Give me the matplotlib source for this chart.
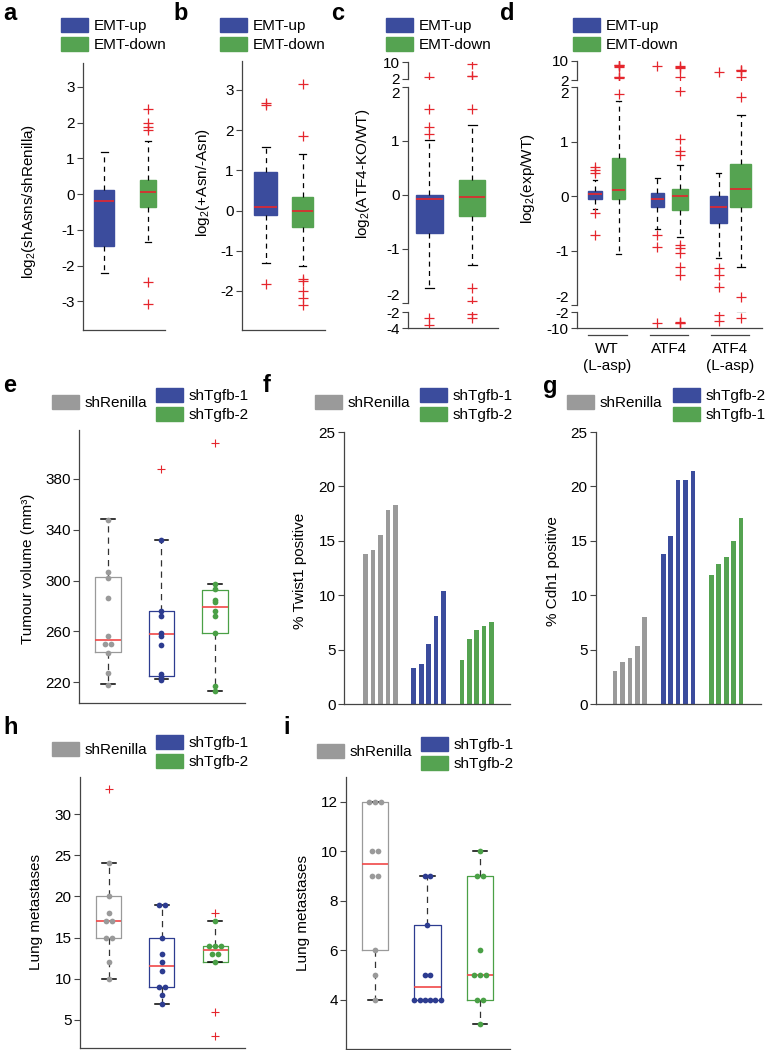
import numpy as np
import matplotlib
matplotlib.use('Agg')
import matplotlib.pyplot as plt
import matplotlib.transforms as mtransforms
from matplotlib.patches import Patch

plt.rcParams['font.family'] = ['Liberation Sans', 'DejaVu Sans']
plt.rcParams['font.size'] = 11
plt.rcParams['axes.unicode_minus'] = False

W, H = 768, 1050

BLUE = '#3b4c9d'
GREEN = '#55a351'
GRAY = '#9a9a9a'
RED = '#e5262d'

# ---- top row: box stats ----
a_up = dict(med=-0.18, q1=-1.45, q3=0.12, whislo=-2.2, whishi=1.17, fliers=[])
a_down = dict(med=0.06, q1=-0.35, q3=0.40, whislo=-1.33, whishi=1.5,
              fliers=[2.38, 2.0, 1.87, 1.8, -2.47, -3.07])

b_up = dict(med=0.1, q1=-0.12, q3=0.95, whislo=-1.3, whishi=1.57,
            fliers=[2.67, 2.62, -1.83])
b_down = dict(med=-0.02, q1=-0.42, q3=0.35, whislo=-1.37, whishi=1.4,
              fliers=[3.15, 1.85, -1.7, -1.76, -2.0, -2.17, -2.36])

c_up = dict(med=-0.07, q1=-0.71, q3=0.0, whislo=-1.73, whishi=1.02,
            fliers=[3.1, 1.59, 1.26, 1.13, -2.75, -3.6])
c_down = dict(med=-0.04, q1=-0.39, q3=0.28, whislo=-1.3, whishi=1.3,
              fliers=[9.0, 3.5, 3.3, 1.59, -1.72, -1.97, -2.3, -2.75])

d_labels = ['WT\n(L-asp)', 'ATF4', 'ATF4\n(L-asp)']
d_stats = [
    dict(med=0.03, q1=-0.05, q3=0.1, whislo=-0.23, whishi=0.3,
         fliers=[0.53, 0.48, 0.43, -0.32, -0.72]),
    dict(med=0.11, q1=-0.05, q3=0.69, whislo=-1.07, whishi=1.75,
         fliers=[1.87, 2.9, 3.1, 3.3, 7.6, 7.9, 8.2, 8.4]),
    dict(med=-0.05, q1=-0.21, q3=0.06, whislo=-0.61, whishi=0.33,
         fliers=[7.9, -0.72, -0.93, -7.3]),
    dict(med=0.0, q1=-0.26, q3=0.12, whislo=-0.75, whishi=0.56,
         fliers=[8.0, 7.5, 6.9, 3.1, 1.92, 1.04, 0.82, 0.75, -0.9, -0.95,
                 -1.05, -1.3, -1.45, -7.0, -7.3, -7.6]),
    dict(med=-0.2, q1=-0.49, q3=0.0, whislo=-1.13, whishi=0.42,
         fliers=[5.5, -1.33, -1.45, -1.67, -3.6, -6.3]),
    dict(med=0.13, q1=-0.2, q3=0.59, whislo=-1.3, whishi=1.49,
         fliers=[6.0, 6.2, 6.4, 3.1, 1.81, -1.85, -5.2]),
]

# ---- e, h, i: individual values ----
e_gray = [348, 307, 302, 286, 256, 250, 250, 243, 227, 218]
e_blue = [332, 276, 272, 259, 256, 249, 226, 224, 222]
e_green = [297, 293, 285, 283, 276, 272, 259, 217, 213]
e_stats = [
    dict(med=252.8, q1=243.4, q3=302.8, whislo=218.4, whishi=348.5, fliers=[]),
    dict(med=257.8, q1=224.5, q3=275.7, whislo=222.4, whishi=332, fliers=[388]),
    dict(med=278.9, q1=259, q3=292.5, whislo=213.2, whishi=297.2, fliers=[408]),
]

h_gray = [24, 20, 18, 17, 17, 15, 15, 12, 10]
h_blue = [19, 19, 15, 13, 12, 11, 9, 9, 8, 7]
h_green = [17, 14, 14, 14, 13, 13, 12]
h_stats = [
    dict(med=17, q1=15, q3=20, whislo=10, whishi=24, fliers=[33]),
    dict(med=11.5, q1=9, q3=15, whislo=7, whishi=19, fliers=[]),
    dict(med=13.5, q1=12, q3=14, whislo=12, whishi=17, fliers=[18, 6, 3]),
]

i_gray = [12, 12, 12, 10, 10, 9, 9, 6, 5, 4]
i_blue = [9, 9, 7, 5, 5, 4, 4, 4, 4, 4, 4]
i_green = [10, 9, 9, 6, 5, 5, 5, 4, 4, 3]
i_stats = [
    dict(med=9.5, q1=6, q3=12, whislo=4, whishi=12, fliers=[]),
    dict(med=4.5, q1=4, q3=7, whislo=4, whishi=9, fliers=[]),
    dict(med=5, q1=4, q3=9, whislo=3, whishi=10, fliers=[]),
]

# ---- f, g bars ----
f_gray = [13.8, 14.2, 15.5, 17.8, 18.3]
f_blue = [3.3, 3.7, 5.5, 8.1, 10.4]
f_green = [4.0, 6.0, 6.8, 7.2, 7.5]
g_gray = [3.0, 3.9, 4.2, 5.3, 8.0]
g_blue = [13.8, 15.4, 20.6, 20.6, 21.4]
g_green = [11.9, 12.9, 13.5, 15.0, 17.1]

fig = plt.figure(figsize=(W / 100, H / 100), dpi=100)


def px_axes(x0, y0, x1, y1):
    return fig.add_axes([x0 / W, 1 - y1 / H, (x1 - x0) / W, (y1 - y0) / H])


def style(ax, left=True, bottom=True):
    for s in ['top', 'right']:
        ax.spines[s].set_visible(False)
    ax.spines['left'].set_visible(left)
    ax.spines['bottom'].set_visible(bottom)
    for s in ['left', 'bottom']:
        ax.spines[s].set_color('#444444')
        ax.spines[s].set_linewidth(0.9)
    ax.tick_params(axis='y', direction='out', length=4, width=0.8, pad=2,
                   labelsize=11, color='#444444')
    ax.tick_params(axis='x', length=0, labelbottom=False)
    ax.set_facecolor('none')


def ylabel(ax, text, right_px, frac=0.5):
    # right_px: distance (px) from the left spine to the label's right edge
    ax.set_ylabel(text, fontsize=11)
    w = ax.get_position().width * W
    ax.yaxis.set_label_coords(-right_px / w, frac)


def top_box(ax, stats, pos, widths):
    bp = ax.bxp(stats, positions=pos, widths=widths,
                capwidths=[w * 0.35 for w in widths], patch_artist=True,
                manage_ticks=False,
                whiskerprops=dict(color='black', lw=0.9, linestyle=(0, (4, 3.5))),
                capprops=dict(color='black', lw=0.9),
                medianprops=dict(color=RED, lw=1.2),
                flierprops=dict(marker='+', markeredgecolor=RED, markersize=6.5,
                                mew=0.9, linestyle='none'))
    for k, box in enumerate(bp['boxes']):
        c = BLUE if k % 2 == 0 else GREEN
        box.set_facecolor(c)
        box.set_edgecolor(c)


def spread(vals, step=0.11):
    vals = np.asarray(vals, dtype=float)
    off = np.zeros(len(vals))
    for v in np.unique(vals):
        idx = np.where(vals == v)[0]
        n = len(idx)
        st = min(step, 0.5 / max(n - 1, 1))
        off[idx] = (np.arange(n) - (n - 1) / 2) * st
    return off


def dot_box(ax, stats, groups, colors, widths=0.47):
    pos = [1, 2, 3]
    bp = ax.bxp(stats, positions=pos, widths=widths, capwidths=widths * 0.55,
                manage_ticks=False,
                whiskerprops=dict(color='#333333', lw=0.9, linestyle=(0, (5, 4))),
                capprops=dict(color='black', lw=1.1),
                medianprops=dict(color='#f04848', lw=1.2),
                flierprops=dict(marker='+', markeredgecolor=RED, markersize=6,
                                mew=0.8, linestyle='none'))
    for box, c in zip(bp['boxes'], colors):
        box.set_color(c)
        box.set_linewidth(0.9)
    for p, vals, c in zip(pos, groups, colors):
        ax.scatter(p + spread(vals), vals, s=17, color=c, linewidths=0, zorder=3)


def legend(loc_px, labels, colors, fontsize=11):
    handles = [Patch(facecolor=c, edgecolor=c) for c in colors]
    fig.legend(handles, labels, loc='upper left',
               bbox_to_anchor=(loc_px[0] / W, 1 - loc_px[1] / H),
               frameon=False, fontsize=fontsize, borderpad=0, borderaxespad=0,
               handlelength=1.75, handleheight=1.0, handletextpad=0.4,
               labelspacing=0.28)


def panel_label(x, y, s):
    fig.text(x / W, 1 - y / H, s, fontsize=17, fontweight='bold', va='center',
             ha='left')


emt = ['EMT-up', 'EMT-down']

# ---- a ----
ax = px_axes(83, 63, 165, 330)
top_box(ax, [a_up, a_down], [1, 2], [0.45, 0.38])
ax.set_xlim(0.52, 2.39)
ax.set_ylim(-3.8, 3.67)
ax.set_yticks([-3, -2, -1, 0, 1, 2, 3])
style(ax)
ylabel(ax, r'log$_\mathregular{2}$(shAsns/shRenilla)', 45, 0.48)
legend((61, 18), emt, [BLUE, GREEN])
panel_label(3, 14, 'a')

# ---- b ----
ax = px_axes(242, 61, 325, 330)
top_box(ax, [b_up, b_down], [1, 2], [0.62, 0.57])
ax.set_xlim(0.36, 2.6)
ax.set_ylim(-2.97, 3.72)
ax.set_yticks([-2, -1, 0, 1, 2, 3])
style(ax)
ylabel(ax, r'log$_\mathregular{2}$(+Asn/-Asn)', 30, 0.55)
legend((220, 18), emt, [BLUE, GREEN])
panel_label(173, 14, 'b')


# ---- broken axes helper for c and d ----
def broken(x0, x1, ys, lims, ticks, stats, pos, widths, xlim):
    axes = []
    for k, ((y0, y1), lim, tk) in enumerate(zip(ys, lims, ticks)):
        ax = px_axes(x0, y0, x1, y1)
        # keep only the outliers that fall inside this segment of the axis
        seg = [dict(s, fliers=[v for v in s['fliers'] if lim[0] <= v <= lim[1]])
               for s in stats]
        top_box(ax, seg, pos, widths)
        ax.set_xlim(*xlim)
        ax.set_ylim(*lim)
        ax.set_yticks(tk)
        style(ax, bottom=(k == 2))
        axes.append(ax)
    # end labels of the middle segment sit just inside their ticks
    labels = axes[1].get_yticklabels()
    labels[-1].set_va('top')
    labels[0].set_va('bottom')
    return axes


c_axes = broken(408, 498, [(62, 79), (87, 303), (312, 328)],
                [(2, 10), (-2, 2), (-4, -2)],
                [[2, 10], [-2, -1, 0, 1, 2], [-4, -2]],
                [c_up, c_down], [1, 2], [0.62, 0.6], (0.5, 2.6))
ylabel(c_axes[1], r'log$_\mathregular{2}$(ATF4-KO/WT)', 36, 0.6)
legend((386, 18), emt, [BLUE, GREEN])
panel_label(331, 14, 'c')

d_pos = [1, 2, 3.65, 4.6, 6.25, 7.2]
d_axes = broken(577, 762, [(61, 80), (87, 305), (312, 328)],
                [(2, 10), (-2, 2), (-10, -2)],
                [[2, 10], [-2, -1, 0, 1, 2], [-10, -2]],
                d_stats, d_pos, [0.57, 0.57, 0.57, 0.68, 0.72, 0.9],
                (0.23, 8.1))
ylabel(d_axes[1], r'log$_\mathregular{2}$(exp/WT)', 40, 0.58)
ax = d_axes[2]
centers = [(d_pos[2 * k] + d_pos[2 * k + 1]) / 2 for k in range(3)]
trans = mtransforms.blended_transform_factory(ax.transData, ax.transAxes)
for k in range(3):
    ax.plot([d_pos[2 * k] - 0.3, d_pos[2 * k + 1] + 0.35], [-0.45, -0.45],
            color='#444444', lw=0.9, transform=trans, clip_on=False)
ax.set_xticks(centers)
ax.set_xticklabels(d_labels, fontsize=11, linespacing=1.25)
ax.tick_params(axis='x', length=0, labelbottom=True, pad=10)
legend((573, 18), emt, [BLUE, GREEN])
panel_label(500, 14, 'd')

# ---- e ----
ax = px_axes(79, 430, 245, 703)
dot_box(ax, e_stats, [e_gray, e_blue, e_green], [GRAY, '#2d3c90', '#4aa046'])
ax.set_xlim(0.46, 3.56)
ax.set_ylim(203.5, 418.6)
ax.set_yticks([220, 260, 300, 340, 380])
style(ax)
ylabel(ax, 'Tumour volume (mm³)', 44, 0.49)
legend((52, 395), ['shRenilla'], [GRAY])
legend((156, 388), ['shTgfb-1', 'shTgfb-2'], [BLUE, GREEN])
panel_label(3, 386, 'e')


# ---- f, g ----
def bars(ax, groups, colors):
    for gi, (vals, c) in enumerate(zip(groups, colors)):
        x = gi * 6.5 + np.arange(len(vals))
        ax.bar(x, vals, width=0.63, color=c)
    ax.set_ylim(0, 25)
    ax.set_yticks([0, 5, 10, 15, 20, 25])
    style(ax)


ax = px_axes(344, 432, 510, 704)
bars(ax, [f_gray, f_blue, f_green], [GRAY, BLUE, GREEN])
ax.set_xlim(-2.93, 19.5)
ylabel(ax, '% Twist1 positive', 37, 0.49)
legend((315, 395), ['shRenilla'], [GRAY])
legend((420, 388), ['shTgfb-1', 'shTgfb-2'], [BLUE, GREEN])
panel_label(263, 386, 'f')

ax = px_axes(596, 432, 761, 704)
bars(ax, [g_gray, g_blue, g_green], [GRAY, BLUE, GREEN])
ax.set_xlim(-2.57, 19.7)
ylabel(ax, '% Cdh1 positive', 36, 0.49)
legend((567, 395), ['shRenilla'], [GRAY])
legend((673, 388), ['shTgfb-2', 'shTgfb-1'], [BLUE, GREEN])
panel_label(543, 386, 'g')

# ---- h ----
ax = px_axes(80, 777, 245, 1048)
dot_box(ax, h_stats, [h_gray, h_blue, h_green], [GRAY, '#2d3c90', '#4aa046'])
ax.set_xlim(0.46, 3.56)
ax.set_ylim(1.6, 34.5)
ax.set_yticks([5, 10, 15, 20, 25, 30])
style(ax)
ylabel(ax, 'Lung metastases', 37, 0.5)
legend((52, 742), ['shRenilla'], [GRAY])
legend((156, 735), ['shTgfb-1', 'shTgfb-2'], [BLUE, GREEN])
panel_label(3, 728, 'h')

# ---- i ----
ax = px_axes(346, 777, 510, 1049)
dot_box(ax, i_stats, [i_gray, i_blue, i_green], [GRAY, '#2d3c90', '#4aa046'],
        widths=0.5)
ax.set_xlim(0.45, 3.57)
ax.set_ylim(2.0, 13.0)
ax.set_yticks([4, 6, 8, 10, 12])
style(ax)
ylabel(ax, 'Lung metastases', 36, 0.5)
legend((317, 744), ['shRenilla'], [GRAY])
legend((421, 737), ['shTgfb-1', 'shTgfb-2'], [BLUE, GREEN])
panel_label(283, 727, 'i')

fig.savefig('out.png', dpi=100)
